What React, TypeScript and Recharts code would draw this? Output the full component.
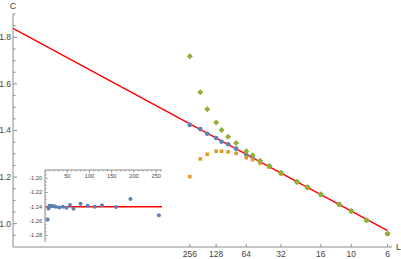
import React from 'react';
import { ComposedChart, ScatterChart, Scatter, XAxis, YAxis, ReferenceLine } from 'recharts';

// Lattice sizes L (x axis is L^-0.2)
const L_VALUES = [256, 192, 160, 128, 112, 96, 80, 64, 56, 48, 40, 32, 24, 20, 16, 12, 10, 8, 6];
const C_BLUE = [1.424, 1.406, 1.386, 1.368, 1.352, 1.341, 1.322, 1.296, 1.284, 1.266, 1.246, 1.217, 1.181, 1.157, 1.125, 1.083, 1.054, 1.015, 0.957];
const C_ORANGE = [1.202, 1.278, 1.298, 1.311, 1.311, 1.308, 1.302, 1.283, 1.275, 1.259, 1.243, 1.214, 1.177, 1.153, 1.123, 1.080, 1.052, 1.014, 0.957];
const C_GREEN = [1.719, 1.564, 1.491, 1.434, 1.402, 1.373, 1.346, 1.311, 1.294, 1.270, 1.248, 1.219, 1.179, 1.156, 1.126, 1.083, 1.055, 1.015, 0.957];
// inset: slope estimates vs L
const SLOPE_EST = [-1.2521, -1.2291, -1.2404, -1.2381, -1.2400, -1.2386, -1.2357, -1.2428, -1.2377, -1.2414, -1.2400, -1.2410, -1.2400, -1.2395, -1.2390, -1.2385, -1.2385, -1.2426, -1.2580];
const INSET_FIT = -1.24;
// fitted red line endpoints (x = L^-0.2)
const FIT_X = [0, 0.6988];
const FIT_C = [1.838, 0.970];

const X_TICK_L = [256, 128, 64, 32, 16, 10, 6];
const Y_TICKS = [0.95, 1.0, 1.05, 1.1, 1.15, 1.2, 1.25, 1.3, 1.35, 1.4, 1.45, 1.5, 1.55, 1.6, 1.65, 1.7, 1.75, 1.8, 1.85, 1.9];
const INSET_X_TICKS = [10, 20, 30, 40, 50, 60, 70, 80, 90, 100, 110, 120, 130, 140, 150, 160, 170, 180, 190, 200, 210, 220, 230, 240, 250, 260];
const INSET_Y_TICKS = [-1.285, -1.28, -1.275, -1.27, -1.265, -1.26, -1.255, -1.25, -1.245, -1.24, -1.235, -1.23, -1.225, -1.22, -1.215, -1.21, -1.205, -1.2, -1.195, -1.19];

const EXP = -0.2;
const tx = (L: number) => Math.pow(L, EXP);

const BLUE = '#5E81B5';
const ORANGE = '#E19C24';
const GREEN = '#8FB032';
const AXIS = '#8c8c8c';
const LABEL = '#444444';
const FONT = '"Liberation Sans", Arial, sans-serif';

const blueData = L_VALUES.map((L, i) => ({ x: tx(L), y: C_BLUE[i] }));
const orangeData = L_VALUES.map((L, i) => ({ x: tx(L), y: C_ORANGE[i] }));
const greenData = L_VALUES.map((L, i) => ({ x: tx(L), y: C_GREEN[i] }));
const insetData = L_VALUES.map((L, i) => ({ x: L, y: SLOPE_EST[i] }));

const Circle = (p: any) => <circle cx={p.cx} cy={p.cy} r={2.3} fill={BLUE} />;
const Square = (p: any) => <rect x={p.cx - 1.8} y={p.cy - 1.8} width={3.6} height={3.6} fill={ORANGE} />;
const Diamond = (p: any) => (
  <polygon points={`${p.cx},${p.cy - 3} ${p.cx + 3},${p.cy} ${p.cx},${p.cy + 3} ${p.cx - 3},${p.cy}`} fill={GREEN} />
);
const SmallCircle = (p: any) => <circle cx={p.cx} cy={p.cy} r={2} fill={BLUE} />;

const MainYTick = (p: any) => {
  const v = p.payload.value;
  const major = Math.abs(v * 5 - Math.round(v * 5)) < 1e-6;
  return (
    <g>
      <line x1={p.x} x2={p.x + (major ? 4 : 2.5)} y1={p.y} y2={p.y} stroke={AXIS} strokeWidth={1} />
      {major && (
        <text x={p.x - 2} y={p.y} dy="0.35em" textAnchor="end" fontSize={8.5} fontFamily={FONT} fill={LABEL}>
          {v.toFixed(1)}
        </text>
      )}
    </g>
  );
};

const MainXTick = (p: any) => {
  const L = Math.round(Math.pow(p.payload.value, 1 / EXP));
  return (
    <g>
      <line x1={p.x} x2={p.x} y1={p.y} y2={p.y - 3} stroke={AXIS} strokeWidth={1} />
      <text x={p.x} y={p.y + 7} dy="0.35em" textAnchor="middle" fontSize={8.5} fontFamily={FONT} fill={LABEL}>
        {L}
      </text>
    </g>
  );
};

const InsetYTick = (p: any) => {
  const v = p.payload.value;
  const major = Math.abs(v * 50 - Math.round(v * 50)) < 1e-6;
  return (
    <g>
      <line x1={p.x} x2={p.x + (major ? 3 : 1.5)} y1={p.y} y2={p.y} stroke={AXIS} strokeWidth={0.8} />
      {major && (
        <text x={p.x - 3} y={p.y} dy="0.35em" textAnchor="end" fontSize={5.6} fontFamily={FONT} fill={LABEL}>
          {v.toFixed(2)}
        </text>
      )}
    </g>
  );
};

const InsetXTick = (p: any) => {
  const v = p.payload.value;
  const major = v % 50 === 0;
  return (
    <g>
      <line x1={p.x} x2={p.x} y1={p.y} y2={p.y + (major ? 3 : 1.5)} stroke={AXIS} strokeWidth={0.8} />
      {major && (
        <text x={p.x} y={p.y + 6.5} dy="0.35em" textAnchor="middle" fontSize={5.6} fontFamily={FONT} fill={LABEL}>
          {v}
        </text>
      )}
    </g>
  );
};

const CLabel = (p: any) => {
  const vb = p.viewBox || {};
  return (
    <text x={vb.x + vb.width} y={vb.y - 5} textAnchor="middle" fontSize={9} fontFamily={FONT} fill={LABEL}>
      C
    </text>
  );
};

const LLabel = (p: any) => {
  const vb = p.viewBox || {};
  return (
    <text x={vb.x + vb.width + 4} y={vb.y} dy="0.35em" textAnchor="start" fontSize={9} fontFamily={FONT} fill={LABEL}>
      L
    </text>
  );
};

export default function App() {
  return (
    <div style={{ position: 'absolute', left: 0, top: 0, width: 401, height: 259, background: '#fff' }}>
      <div style={{ position: 'absolute', left: 0, top: 0 }}>
        <ComposedChart width={401} height={259} margin={{ top: 14, right: 9, bottom: 0, left: 0 }}>
          <XAxis
            type="number"
            dataKey="x"
            domain={[0, 0.7071]}
            ticks={X_TICK_L.map(tx)}
            interval={0}
            height={12}
            tickSize={0}
            tickMargin={0}
            tick={<MainXTick />}
            axisLine={{ stroke: AXIS, strokeWidth: 1 }}
            tickLine={false}
            label={<LLabel />}
          />
          <YAxis
            type="number"
            dataKey="y"
            domain={[0.9, 1.9]}
            ticks={Y_TICKS}
            interval={0}
            width={13}
            tickSize={0}
            tickMargin={0}
            tick={<MainYTick />}
            axisLine={{ stroke: AXIS, strokeWidth: 1 }}
            tickLine={false}
            label={<CLabel />}
          />
          <Scatter data={blueData} dataKey="y" shape={<Circle />} isAnimationActive={false} />
          <Scatter data={orangeData} dataKey="y" shape={<Square />} isAnimationActive={false} />
          <Scatter data={greenData} dataKey="y" shape={<Diamond />} isAnimationActive={false} />
          <ReferenceLine
            segment={[
              { x: FIT_X[0], y: FIT_C[0] },
              { x: FIT_X[1], y: FIT_C[1] },
            ]}
            stroke="#ff0000"
            strokeWidth={1.4}
          />
        </ComposedChart>
      </div>
      <div style={{ position: 'absolute', left: 0, top: 0 }}>
        <ScatterChart width={401} height={259} margin={{ top: 160, right: 239, bottom: 17, left: 25 }}>
          <XAxis
            type="number"
            dataKey="x"
            orientation="top"
            domain={[0, 263]}
            ticks={INSET_X_TICKS}
            interval={0}
            height={10}
            tickSize={0}
            tickMargin={0}
            tick={<InsetXTick />}
            axisLine={{ stroke: AXIS, strokeWidth: 1 }}
            tickLine={false}
          />
          <YAxis
            type="number"
            dataKey="y"
            domain={[-1.2895, -1.1885]}
            ticks={INSET_Y_TICKS}
            interval={0}
            width={20}
            tickSize={0}
            tickMargin={0}
            tick={<InsetYTick />}
            axisLine={{ stroke: AXIS, strokeWidth: 1 }}
            tickLine={false}
            allowDataOverflow
          />
          <Scatter data={insetData} dataKey="y" shape={<SmallCircle />} isAnimationActive={false} />
          <ReferenceLine y={INSET_FIT} stroke="#ff0000" strokeWidth={1.4} />
        </ScatterChart>
      </div>
    </div>
  );
}
